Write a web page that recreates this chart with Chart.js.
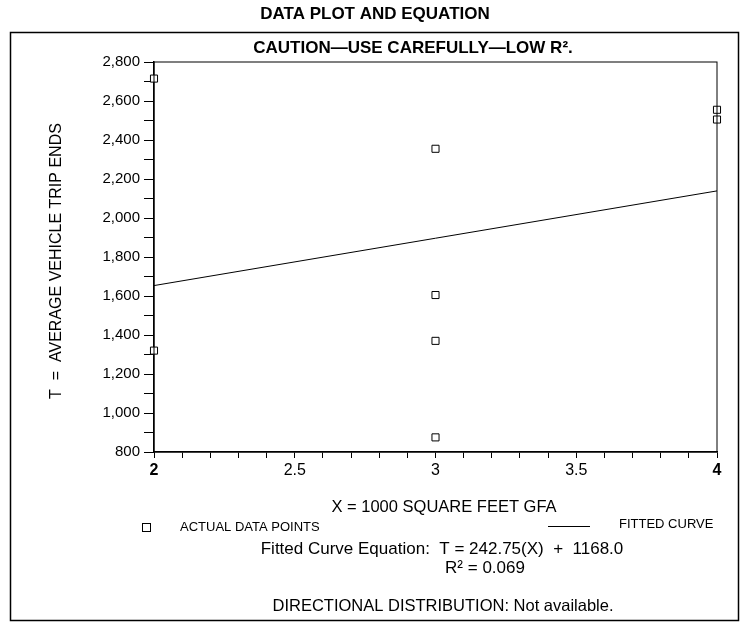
<!DOCTYPE html>
<html>
<head>
<meta charset="utf-8">
<script src="https://cdn.jsdelivr.net/npm/chart.js@4"></script>
<style>
  html, body { margin: 0; padding: 0; background: #fff; }
  #wrap { width: 743px; height: 625px; position: relative; }
</style>
</head>
<body>
<div id="wrap"><canvas id="plot"></canvas></div>
<script>
// data
const areaX = [2, 2, 3, 3, 3, 3, 4, 4];          // X = 1000 sq ft GFA
const tripEnds = [2715, 1320, 2355, 1605, 1370, 875, 2555, 2505];
const fitSlope = 242.75;
const fitIntercept = 1168.0;
const fitX = [2, 4];
const xLabels = ['2', '2.5', '3', '3.5', '4'];
const yLabels = ['800', '1,000', '1,200', '1,400', '1,600', '1,800', '2,000', '2,200', '2,400', '2,600', '2,800'];

const FONT = '"Liberation Sans", Arial, Helvetica, sans-serif';

// frame + page texts
const decor = {
    id: 'decor',
    afterDraw(chart) {
        const c = chart.ctx;
        const a = chart.chartArea;
        c.save();
        c.strokeStyle = '#000';
        c.lineWidth = 1;
        c.strokeRect(a.left, a.top, a.right - a.left, a.bottom - a.top);
        c.lineWidth = 1.5;
        c.strokeRect(10.5, 32.5, 728, 588);

        c.fillStyle = '#000';
        c.textAlign = 'center';
        c.textBaseline = 'middle';
        c.font = 'bold 17px ' + FONT;
        c.fillText('DATA PLOT AND EQUATION', 375, 14);
        c.fillText('CAUTION\u2014USE CAREFULLY\u2014LOW R\u00B2.', 413, 48);

        c.font = '16.5px ' + FONT;
        c.fillText('X = 1000 SQUARE FEET GFA', 444, 507);
        c.fillText('DIRECTIONAL DISTRIBUTION: Not available.', 443, 606);
        c.font = '17px ' + FONT;
        c.fillText('Fitted Curve Equation:  T = 242.75(X)  +  1168.0', 442, 549);
        c.fillText('R\u00B2 = 0.069', 485, 568);

        // legend
        c.textAlign = 'left';
        c.font = '13px ' + FONT;
        c.fillText('ACTUAL DATA POINTS', 180, 527);
        c.fillText('FITTED CURVE', 619, 524);
        c.lineWidth = 1;
        c.strokeRect(142.5, 523.5, 8, 8);
        c.beginPath();
        c.moveTo(548, 526.5);
        c.lineTo(590, 526.5);
        c.stroke();

        // y title
        c.save();
        c.translate(57, 261);
        c.rotate(-Math.PI / 2);
        c.textAlign = 'center';
        c.font = '16px ' + FONT;
        c.fillText('T  =  AVERAGE VEHICLE TRIP ENDS', 0, 0);
        c.restore();
        c.restore();
    }
};

new Chart(document.getElementById('plot'), {
    type: 'scatter',
    data: {
        datasets: [{
            label: 'ACTUAL DATA POINTS',
            data: areaX.map((x, i) => ({ x: x, y: tripEnds[i] })),
            pointStyle: 'rect',
            pointRadius: 5,
            pointBorderWidth: 1,
            pointBorderColor: '#000',
            pointBackgroundColor: '#fff',
            clip: false
        }, {
            label: 'FITTED CURVE',
            data: fitX.map(x => ({ x: x, y: fitSlope * x + fitIntercept })),
            showLine: true,
            borderColor: '#000',
            borderWidth: 1,
            pointRadius: 0
        }]
    },
    options: {
        responsive: true,
        maintainAspectRatio: false,
        animation: false,
        layout: {
            padding: { left: 0, right: 26, top: 62, bottom: 143 }
        },
        plugins: {
            legend: { display: false },
            tooltip: { enabled: false }
        },
        scales: {
            x: {
                type: 'linear',
                min: 2,
                max: 4,
                afterFit: s => { s.height = 30; },
                ticks: {
                    stepSize: 0.1,
                    autoSkip: false,
                    maxRotation: 0,
                    color: '#000',
                    padding: 3,
                    font: ctx => ({
                        family: FONT,
                        size: 16,
                        weight: (ctx.tick && (Math.abs(ctx.tick.value - 2) < 1e-6 || Math.abs(ctx.tick.value - 4) < 1e-6)) ? 'bold' : 'normal'
                    }),
                    callback: v => {
                        const k = Math.round(v * 2);
                        return Math.abs(v * 2 - k) < 1e-6 ? xLabels[k - 4] : '';
                    }
                },
                grid: {
                    drawOnChartArea: false,
                    drawTicks: true,
                    tickLength: 6,
                    color: '#000'
                },
                border: { display: true, color: '#000', width: 1.5 }
            },
            y: {
                min: 800,
                max: 2800,
                afterFit: s => { s.width = 154; },
                ticks: {
                    stepSize: 100,
                    autoSkip: false,
                    color: '#000',
                    padding: 4,
                    font: { family: FONT, size: 15 },
                    callback: v => (v % 200 === 0 ? yLabels[(v - 800) / 200] : '')
                },
                grid: {
                    drawOnChartArea: false,
                    drawTicks: true,
                    tickLength: 10,
                    color: '#000'
                },
                border: { display: true, color: '#000', width: 1.5 }
            }
        }
    },
    plugins: [decor]
});
</script>
</body>
</html>
